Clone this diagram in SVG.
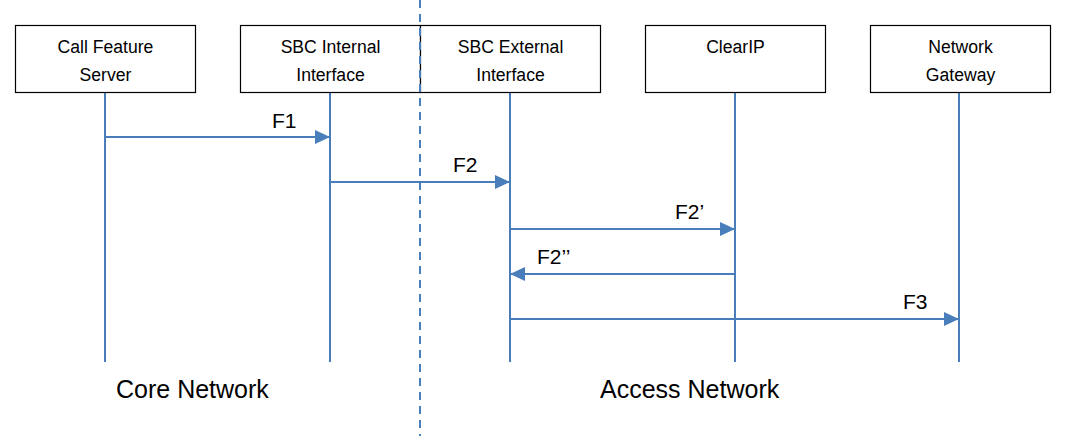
<svg xmlns="http://www.w3.org/2000/svg" width="1072" height="447" viewBox="0 0 1072 447">
<style>
.box{fill:#fff;stroke:#000;stroke-width:1.2}
.lt{font-family:"Liberation Sans",Arial,sans-serif;font-size:17.6px;fill:#000;text-anchor:middle}
.life{stroke:#4A7EBB;stroke-width:2;fill:none}
.msg{stroke:#4A7EBB;stroke-width:2;fill:none;marker-end:url(#ah)}
.ml{font-family:"Liberation Sans",Arial,sans-serif;font-size:21px;fill:#000}
.zone{font-family:"Liberation Sans",Arial,sans-serif;font-size:25px;fill:#000}
</style>
<defs>
<marker id="ah" markerUnits="userSpaceOnUse" markerWidth="15" markerHeight="14" refX="15" refY="7" orient="auto">
<path d="M0,0 L15,7 L0,14 Z" fill="#4A7EBB"/>
</marker>
</defs>
<rect width="1072" height="447" fill="#fff"/>
<g id="lifelines">
<line class="life" x1="105" y1="92" x2="105" y2="362"/>
<line class="life" x1="330" y1="92" x2="330" y2="362"/>
<line class="life" x1="510" y1="92" x2="510" y2="362"/>
<line class="life" x1="735" y1="92" x2="735" y2="362"/>
<line class="life" x1="959" y1="92" x2="959" y2="362"/>
</g>
<g id="node-cfs">
<rect class="box" x="15.5" y="25.5" width="180" height="67"/>
<text class="lt" x="105.5" y="53">Call Feature</text>
<text class="lt" x="105.5" y="81">Server</text>
</g>
<g id="node-sbc-int">
<rect class="box" x="240.5" y="25.5" width="180" height="67"/>
<text class="lt" x="330.5" y="53">SBC Internal</text>
<text class="lt" x="330.5" y="81">Interface</text>
</g>
<g id="node-sbc-ext">
<rect class="box" x="420.5" y="25.5" width="180" height="67"/>
<text class="lt" x="510.5" y="53">SBC External</text>
<text class="lt" x="510.5" y="81">Interface</text>
</g>
<g id="node-clearip">
<rect class="box" x="645.5" y="25.5" width="180" height="67"/>
<text class="lt" x="735.5" y="53">ClearIP</text>
</g>
<g id="node-gateway">
<rect class="box" x="870.5" y="25.5" width="180" height="67"/>
<text class="lt" x="960.5" y="53">Network</text>
<text class="lt" x="960.5" y="81">Gateway</text>
</g>
<g id="divider">
<line x1="420" y1="0" x2="420" y2="436" stroke="#4A7EBB" stroke-width="2" stroke-dasharray="8,6"/>
</g>
<g id="connectors">
<line class="msg" x1="105" y1="137" x2="330" y2="137"/>
<text class="ml" x="272" y="128">F1</text>
<line class="msg" x1="330" y1="182" x2="510" y2="182"/>
<text class="ml" x="453" y="172">F2</text>
<line class="msg" x1="510" y1="229" x2="735" y2="229"/>
<text class="ml" x="675" y="219">F2’</text>
<line class="msg" x1="735" y1="274" x2="510" y2="274"/>
<text class="ml" x="537" y="264">F2’’</text>
<line class="msg" x1="510" y1="319" x2="959" y2="319"/>
<text class="ml" x="903" y="309">F3</text>
</g>
<g id="zones">
<text class="zone" x="116" y="398">Core Network</text>
<text class="zone" x="600" y="398">Access Network</text>
</g>
</svg>
